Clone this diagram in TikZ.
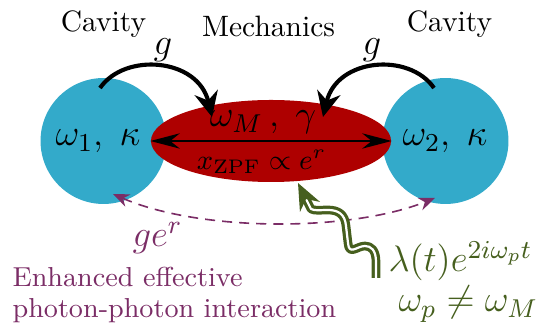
\RequirePackage{fix-cm}
\documentclass[tikz,border=0pt]{standalone}
\usepackage{amsmath}
\usetikzlibrary{arrows.meta,shapes.geometric}
\definecolor{cavblue}{RGB}{51,170,202}
\definecolor{mechred}{RGB}{174,0,0}
\definecolor{effpurple}{RGB}{123,45,102}
\definecolor{drivegreen}{RGB}{70,95,30}
\tikzset{
  cavity/.style={circle, fill=cavblue, minimum size=42.7pt, inner sep=0pt},
  mech/.style={ellipse, fill=mechred, minimum width=81.4pt, minimum height=27.8pt, inner sep=0pt},
  lbl/.style={anchor=base, inner sep=0pt, font=\fontsize{10}{12}\selectfont},
  bigmath/.style={anchor=base, inner sep=0pt, font=\fontsize{12.5}{15}\selectfont},
  coupling/.style={line width=1.4pt, -{Stealth[length=8.5pt,width=8pt]}},
  effective/.style={effpurple, line width=0.55pt, dash pattern=on 3.4pt off 2.4pt, {Stealth[length=5.5pt,width=4.5pt]}-{Stealth[length=5.5pt,width=4.5pt]}},
  drive/.style={drivegreen, line width=1.1pt, double=white, double distance=0.75pt, line join=round,
    -{Stealth[length=9pt,width=7.5pt]}}
}
\begin{document}
\begin{tikzpicture}[x=0.339pt,y=-0.339pt]
\useasboundingbox (0,0) rectangle (543,326);
% shapes
\node[cavity] (c1) at (103.5,141) {};
\node[cavity] (c2) at (445.5,141) {};
\node[mech] (m) at (271,141) {};
% labels inside
\node[bigmath] (w1) at (98,146) {$\omega_1,\;\kappa$};
\node[bigmath] (w2) at (445,146) {$\omega_2,\;\kappa$};
\node[bigmath] (wm) at (263,127) {$\omega_M\,,\;\gamma$};
\node[anchor=base, inner sep=0pt, font=\fontsize{9.5}{11}\selectfont] (xz) at (261.5,170) {$x_{\mathrm{ZPF}}\propto e^{r}$};
% horizontal double arrow
\draw[line width=0.7pt, {Stealth[length=10pt,width=5.2pt]}-{Stealth[length=10pt,width=5.2pt]}] (m.west) -- (m.east);
% titles
\node[lbl] (t1) at (103.5,32) {Cavity};
\node[lbl] (t2) at (449.5,32) {Cavity};
\node[lbl] (tm) at (268.5,37) {Mechanics};
\node[bigmath] (g1) at (163,55) {$g$};
\node[bigmath] (g2) at (372,55) {$g$};
% coupling arrows
\coordinate (s1) at (100,88);
\coordinate (e1) at (212,117);
\coordinate (s2) at (434,88);
\coordinate (e2) at (323,117);
\draw[coupling] (s1) .. controls (125,52) and (198,58) .. (e1);
\draw[coupling] (s2) .. controls (409,52) and (337,58) .. (e2);
% effective interaction
\coordinate (p1) at (113,194);
\coordinate (p2) at (435,198);
\draw[effective] (p1) .. controls (200,232) and (350,232) .. (p2);
\node[bigmath, text=effpurple] (ger) at (157.5,247) {$ge^{r}$};
\node[anchor=base west, inner sep=0pt, text=effpurple, font=\fontsize{9.3}{11}\selectfont] (enh1) at (12,287) {Enhanced effective};
\node[anchor=base west, inner sep=0pt, text=effpurple, font=\fontsize{9.3}{11}\selectfont] (enh2) at (12,318) {photon-photon interaction};
% drive
\coordinate (d0) at (376,278);
\coordinate (d1) at (298,183);
\draw[drive] (d0) -- (376,262)
  .. controls (376,250) and (371,246) .. (365,246)
  .. controls (357,246) and (349,256) .. (348,243)
  -- (346,226)
  .. controls (345,214) and (338,210) .. (328,210)
  .. controls (320,210) and (315,211) .. (311,209)
  -- (d1);
\node[anchor=base west, inner sep=0pt, text=drivegreen, font=\fontsize{12.5}{15}\selectfont] (lam) at (388,272) {$\lambda(t)e^{2i\omega_p t}$};
\node[anchor=base west, inner sep=0pt, text=drivegreen, font=\fontsize{12.5}{15}\selectfont] (neq) at (398,312) {$\omega_p\neq\omega_M$};
\end{tikzpicture}
\end{document}
